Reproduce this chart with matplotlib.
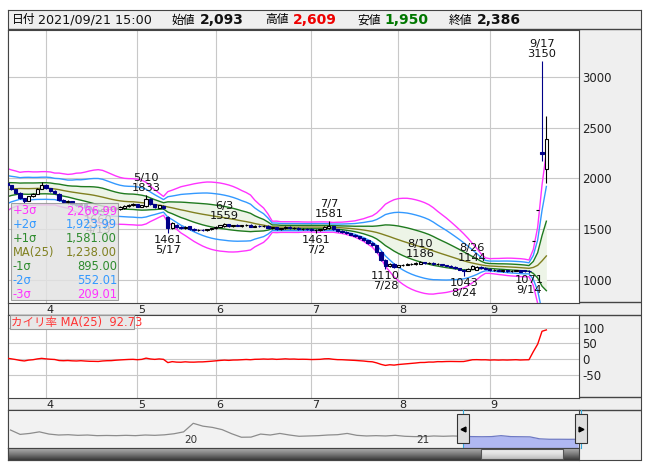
import numpy as np
import pandas as pd
import matplotlib
matplotlib.use("Agg")
import matplotlib.pyplot as plt
from matplotlib.patches import Rectangle
from matplotlib.colors import LinearSegmentedColormap
from matplotlib.transforms import ScaledTranslation, blended_transform_factory

plt.rcParams["font.family"] = ["DejaVu Sans", "Noto Sans CJK JP"]
plt.rcParams["axes.unicode_minus"] = False

W, H = 653, 470

# 取引日 (東証の祝日を除く)
holidays = ["2021-04-29", "2021-05-03", "2021-05-04", "2021-05-05",
            "2021-07-22", "2021-07-23", "2021-08-09", "2021-09-20"]
dates = pd.bdate_range("2021-03-19", "2021-09-21", freq="C", holidays=holidays)

# 表示期間より前の終値 (ボリンジャー計算用, 24本)
pre_closes = [1740, 1770, 1750, 1800, 1840, 1820, 1870, 1910, 1890, 1940, 1980, 1960,
              1990, 1970, 1930, 1890, 1910, 1860, 1840, 1870, 1900, 1930, 1960, 1950]

# 日足 (3/19 - 9/21)
opens = [1950, 1930, 1895, 1860, 1805, 1780, 1830, 1850, 1900,
         1935, 1905, 1880, 1850, 1790, 1770, 1775, 1750, 1735, 1745, 1720, 1700, 1690, 1675, 1695, 1700, 1695, 1695, 1705, 1725, 1740,
         1745, 1720, 1725, 1800, 1745, 1710, 1730, 1620, 1515, 1545, 1525, 1510, 1530, 1500, 1490, 1495, 1490, 1500,
         1510, 1525, 1530, 1550, 1530, 1540, 1535, 1540, 1545, 1525, 1535, 1530, 1535, 1515, 1520, 1500, 1510, 1525, 1510, 1515, 1500, 1505,
         1500, 1490, 1495, 1500, 1510, 1530, 1500, 1480, 1475, 1460, 1445, 1430, 1410, 1390, 1360, 1340, 1280, 1200, 1140, 1160,
         1130, 1145, 1150, 1155, 1160, 1160, 1175, 1165, 1170, 1155, 1160, 1145, 1140, 1130, 1115, 1100, 1090, 1110, 1100, 1130, 1115,
         1110, 1095, 1100, 1090, 1095, 1088, 1092, 1096, 1095, 1090, 1385, 1685, 2260, 2093]
highs = [1960, 1935, 1900, 1865, 1810, 1830, 1860, 1910, 1960,
         1940, 1910, 1885, 1855, 1800, 1785, 1780, 1760, 1755, 1750, 1730, 1710, 1695, 1700, 1710, 1715, 1715, 1725, 1735, 1745, 1755,
         1750, 1740, 1833, 1805, 1750, 1740, 1735, 1625, 1570, 1550, 1535, 1530, 1535, 1510, 1500, 1505, 1505, 1515,
         1530, 1545, 1559, 1555, 1545, 1550, 1545, 1550, 1550, 1540, 1545, 1540, 1538, 1525, 1525, 1515, 1530, 1530, 1520, 1520, 1510, 1515,
         1510, 1500, 1505, 1530, 1581, 1535, 1505, 1490, 1480, 1465, 1450, 1435, 1415, 1395, 1370, 1345, 1290, 1210, 1170, 1165,
         1150, 1160, 1165, 1170, 1175, 1186, 1180, 1175, 1175, 1165, 1162, 1150, 1145, 1135, 1120, 1105, 1115, 1144, 1135, 1135, 1130,
         1115, 1105, 1105, 1100, 1100, 1098, 1100, 1100, 1100, 1095, 1385, 1685, 3150, 2609]
lows = [1915, 1890, 1850, 1800, 1760, 1775, 1820, 1845, 1895,
        1895, 1870, 1850, 1780, 1760, 1750, 1740, 1725, 1730, 1715, 1695, 1680, 1660, 1670, 1685, 1690, 1690, 1690, 1700, 1720, 1730,
        1715, 1715, 1720, 1735, 1705, 1705, 1695, 1461, 1505, 1515, 1505, 1500, 1495, 1480, 1480, 1485, 1485, 1495,
        1505, 1520, 1525, 1525, 1525, 1530, 1525, 1530, 1520, 1520, 1525, 1520, 1510, 1505, 1495, 1495, 1505, 1505, 1500, 1495, 1490, 1495,
        1480, 1461, 1485, 1495, 1500, 1495, 1475, 1465, 1455, 1440, 1420, 1400, 1380, 1355, 1330, 1270, 1190, 1110, 1130, 1120,
        1125, 1140, 1145, 1150, 1150, 1155, 1160, 1155, 1150, 1145, 1140, 1135, 1125, 1110, 1095, 1043, 1085, 1105, 1095, 1110, 1105,
        1090, 1085, 1085, 1080, 1082, 1080, 1085, 1078, 1080, 1071, 1385, 1685, 2170, 1950]
closes = [1930, 1900, 1860, 1810, 1775, 1825, 1850, 1900, 1935,
          1905, 1880, 1860, 1790, 1770, 1775, 1750, 1735, 1745, 1720, 1700, 1690, 1675, 1695, 1700, 1695, 1710, 1720, 1730, 1740, 1745,
          1720, 1735, 1800, 1745, 1715, 1735, 1705, 1515, 1560, 1525, 1510, 1525, 1500, 1490, 1495, 1490, 1500, 1510,
          1525, 1540, 1550, 1530, 1540, 1535, 1540, 1545, 1525, 1535, 1530, 1535, 1515, 1520, 1500, 1510, 1525, 1510, 1515, 1500, 1505, 1500,
          1490, 1495, 1500, 1525, 1530, 1500, 1480, 1475, 1460, 1445, 1430, 1410, 1390, 1360, 1340, 1280, 1200, 1140, 1160, 1130,
          1145, 1150, 1155, 1160, 1165, 1175, 1165, 1170, 1155, 1160, 1145, 1140, 1130, 1115, 1100, 1090, 1110, 1135, 1130, 1115, 1110,
          1095, 1100, 1090, 1095, 1088, 1092, 1096, 1082, 1085, 1085, 1385, 1685, 2240, 2386]

# 高値・安値の注記
ann_dates = ["2021-04-19", "2021-05-10", "2021-05-17", "2021-06-03", "2021-07-02", "2021-07-07",
             "2021-07-28", "2021-08-10", "2021-08-24", "2021-08-26", "2021-09-14", "2021-09-17"]
ann_values = [1660, 1833, 1461, 1559, 1461, 1581, 1110, 1186, 1043, 1144, 1071, 3150]
ann_kinds = ["low", "high", "low", "high", "low", "high", "low", "high", "low", "high", "low", "high"]

band_labels = ["+3σ", "+2σ", "+1σ", "MA(25)", "-1σ", "-2σ", "-3σ"]
band_values = [2266.99, 1923.99, 1581.00, 1238.00, 895.00, 552.01, 209.01]
kairi_last = 92.73
header_time = "2021/09/21 15:00"

# ナビゲーター (長期の終値, おおよそ)
nav_values = [2840, 2150, 2300, 2550, 2200, 2050, 2100, 2000, 2050, 1950,
              1980, 1950, 2000, 1950, 2050, 2000, 2080, 2250, 2550, 3900,
              3450, 3250, 2900, 2250, 1700, 1720, 2200, 2050, 2300, 2050,
              1850, 1900, 1950, 2050, 2100, 2300, 2000, 1900, 1950, 1900,
              2000, 1850, 1800, 1800, 1900, 1850, 1900, 1850, 1800, 1780,
              1800, 1950, 1800, 1780, 1760, 1450, 1380, 1380, 1370, 1380]
nav_years = ["20", "21"]
nav_year_pos = [18.1, 42.2]
nav_sel_start = 47.0

C3, C2, C1, CMA = "#ff33ff", "#3399ff", "#1f7a1f", "#808020"
UP_EDGE, DOWN = "black", "#000088"
GRID = "#c8c8c8"
FRAME = "#444444"


def px(x0, y0, x1, y1):
    return [x0 / W, 1 - y1 / H, (x1 - x0) / W, (y1 - y0) / H]


o, h, l, c = (np.array(a, dtype=float) for a in (opens, highs, lows, closes))
x = np.arange(len(dates))
s = pd.Series(pre_closes + closes, dtype=float)
n_pre = len(pre_closes)
ma = s.rolling(25).mean().to_numpy()[n_pre:]
sd = s.rolling(25).std(ddof=0).to_numpy()[n_pre:]
kairi = (c - ma) / ma * 100

month_pos = [i for i in range(1, len(dates)) if dates[i].month != dates[i - 1].month]
month_lab = [str(dates[i].month) for i in month_pos]
xlim = (0.26, 131.5)

fig = plt.figure(figsize=(W / 100, H / 100), dpi=100)
fig.patch.set_facecolor("white")

# 背景と枠
bg = fig.add_axes(px(8, 10, 641, 459.5))
bg.set_xlim(8, 641)
bg.set_ylim(459.5, 10)
bg.set_facecolor("#efefef")
bg.set_xticks([])
bg.set_yticks([])
for sp in bg.spines.values():
    sp.set_color(FRAME)
bg.hlines([29.5, 302.5, 315, 397.5, 410], 8, 641, color=FRAME, lw=1)

# ヘッダー
hdr = [(12, "日付", 8.5, "normal", "black"),
       (38, header_time, 9.2, "normal", "#111"),
       (172, "始値", 8.5, "normal", "black"),
       (200, f"{int(o[-1]):,}", 10, "bold", "#111"),
       (265, "高値", 8.5, "normal", "black"),
       (293, f"{int(h[-1]):,}", 10, "bold", "#ee0000"),
       (357, "安値", 8.5, "normal", "black"),
       (384, f"{int(l[-1]):,}", 10, "bold", "#007700"),
       (449, "終値", 8.5, "normal", "black"),
       (477, f"{int(c[-1]):,}", 10, "bold", "#111")]
for hx, txt, fs, fw, col in hdr:
    bg.text(hx, 20, txt, ha="left", va="center", fontsize=fs, fontweight=fw, color=col)

# メインチャート
ax = fig.add_axes(px(8, 29.5, 579, 302.5))
ax.set_zorder(2)
ax.set_xlim(*xlim)
ax.set_ylim(779, 3464)
ax.set_facecolor("white")
ax.set_axisbelow(True)
ax.grid(True, color=GRID, lw=0.8)
ax.set_xticks(month_pos)
ax.set_xticklabels(month_lab)
ax.set_yticks([1000, 1500, 2000, 2500, 3000])
ax.yaxis.tick_right()
ax.tick_params(axis="y", length=0, pad=2.5, labelsize=8.5, labelcolor="#222")
ax.tick_params(axis="x", length=0, pad=1.5, labelsize=8, labelcolor="#222")
for lbl in ax.get_xticklabels():
    lbl.set_transform(lbl.get_transform() + ScaledTranslation(4 / 100, 0, fig.dpi_scale_trans))
for sp in ax.spines.values():
    sp.set_color(FRAME)

ax.fill_between(x, ma - sd, ma + sd, color="#edf4e7", lw=0, zorder=1)
for k, col in [(3, C3), (2, C2), (1, C1)]:
    ax.plot(x, ma + k * sd, color=col, lw=1, zorder=2)
    ax.plot(x, ma - k * sd, color=col, lw=1, zorder=2)
ax.plot(x, ma, color=CMA, lw=1, zorder=2)

up = c >= o
for mask, edge, face in [(up, UP_EDGE, "white"), (~up, DOWN, DOWN)]:
    ax.vlines(x[mask], l[mask], h[mask], color=edge, lw=0.8, zorder=3)
    ax.bar(x[mask], (c - o)[mask], bottom=o[mask], width=0.75,
           facecolor=face, edgecolor=edge, lw=0.8, zorder=4)

for d, v, kind in zip(ann_dates, ann_values, ann_kinds):
    ts = pd.Timestamp(d)
    i = dates.get_loc(ts)
    md = f"{ts.month}/{ts.day}"
    if kind == "high":
        txt, dy, va = f"{md}\n{v}", 1.5, "bottom"
    else:
        txt, dy, va = f"{v}\n{md}", -1.5, "top"
    ax.annotate(txt, (i, v), xytext=(0, dy), textcoords="offset points",
                ha="center", va=va, fontsize=8.2, linespacing=1.0, color="#111", zorder=5)

# 凡例ボックス (半透明, 後ろの注記が透けて見える)
ax.add_patch(Rectangle((0.005, 0.009), 0.188, 0.355, transform=ax.transAxes,
                       facecolor="#e2e2e2", edgecolor="#909090", lw=0.8, alpha=0.82, zorder=6))
row_cols = [C3, C2, "#2e8b2e", CMA, "#2e8b2e", C2, C3]
for r, (lab, val, col) in enumerate(zip(band_labels, band_values, row_cols)):
    ry = (302.5 - (211 + r * 13.85)) / 273
    ax.text(0.008, ry, lab, transform=ax.transAxes, ha="left", va="center",
            fontsize=8.3, color=col, zorder=7)
    ax.text(0.191, ry, f"{val:,.2f}", transform=ax.transAxes, ha="right", va="center",
            fontsize=8.3, color=col, zorder=7)

# カイリ率
axk = fig.add_axes(px(8, 315, 579, 397.5))
axk.set_zorder(2)
axk.set_xlim(*xlim)
axk.set_ylim(-123.7, 140.7)
axk.set_facecolor("white")
axk.set_axisbelow(True)
axk.set_xticks(month_pos)
axk.set_xticklabels(month_lab)
axk.set_yticks([-50, 0, 50, 100])
axk.yaxis.tick_right()
axk.grid(True, color=GRID, lw=0.8)
axk.tick_params(axis="y", length=0, pad=2.5, labelsize=8.5, labelcolor="#222")
axk.tick_params(axis="x", length=0, pad=1.5, labelsize=8, labelcolor="#222")
for lbl in axk.get_xticklabels():
    lbl.set_transform(lbl.get_transform() + ScaledTranslation(4 / 100, 0, fig.dpi_scale_trans))
for sp in axk.spines.values():
    sp.set_color(FRAME)
axk.plot(x, kairi, color="#ff0000", lw=1, zorder=3)
axk.add_patch(Rectangle((0.0035, 0.83), 0.217, 0.17, transform=axk.transAxes,
                        facecolor="#e8e8e8", edgecolor="#999999", lw=0.8, zorder=4))
axk.text(0.006, 0.915, f"カイリ率 MA(25)  {kairi_last:.2f}", transform=axk.transAxes,
         ha="left", va="center", fontsize=8.3, color="#ff3333", zorder=5)

# ナビゲーター
axn = fig.add_axes(px(8, 410, 579, 448))
axn.set_zorder(2)
nx_ = np.arange(len(nav_values))
nv = np.array(nav_values, dtype=float)
axn.set_xlim(-0.26, 59.1)
axn.set_ylim(0, 6000)
axn.set_facecolor("#f2f2f2")
axn.set_xticks([])
axn.set_yticks([])
for sp in axn.spines.values():
    sp.set_color(FRAME)
sel = nx_ >= nav_sel_start
axn.plot(nx_[nx_ <= nav_sel_start], nv[nx_ <= nav_sel_start], color="#8c8c8c", lw=0.9)
axn.fill_between(nx_[sel], 0, nv[sel], color="#b0b8f2", lw=0)
axn.plot(nx_[sel], nv[sel], color="#6f7ac4", lw=0.9)
bt = blended_transform_factory(axn.transData, axn.transAxes)
for yp, yl in zip(nav_year_pos, nav_years):
    axn.text(yp, 0.21, yl, transform=bt, ha="left", va="center", fontsize=7.5, color="#333")
for hx, mk in [(nav_sel_start, "<"), (59.3, ">")]:
    axn.plot([hx, hx], [0, 1], color="#33aadd", lw=0.8, transform=bt, clip_on=False, zorder=4)
    axn.add_patch(Rectangle((hx - 0.62, 0.13), 1.24, 0.765, transform=bt, facecolor="#dedede",
                            edgecolor="#333", lw=0.8, clip_on=False, zorder=5))
    axn.plot([hx], [0.51], marker=mk, ms=3.5, color="black", transform=bt, clip_on=False, zorder=6)

# スクロールバー
axs = fig.add_axes(px(8, 448, 579, 459.5))
axs.set_zorder(2)
axs.set_xlim(8, 579)
axs.set_ylim(0, 1)
axs.set_xticks([])
axs.set_yticks([])
dark = LinearSegmentedColormap.from_list("sb", ["#3a3a3a", "#7a7a7a", "#b0b0b0"])
light = LinearSegmentedColormap.from_list("th", ["#bdbdbd", "#e2e2e2", "#f4f4f4"])
grad = np.linspace(0, 1, 32).reshape(-1, 1)
axs.imshow(grad, extent=(8, 579, 0, 1), aspect="auto", cmap=dark, origin="lower")
axs.imshow(grad, extent=(481, 563, 0.05, 0.95), aspect="auto", cmap=light, origin="lower")
axs.add_patch(Rectangle((481, 0.05), 82, 0.9, facecolor="none", edgecolor="#555", lw=0.8))
for sp in axs.spines.values():
    sp.set_color(FRAME)

fig.savefig("out.png", dpi=100)
